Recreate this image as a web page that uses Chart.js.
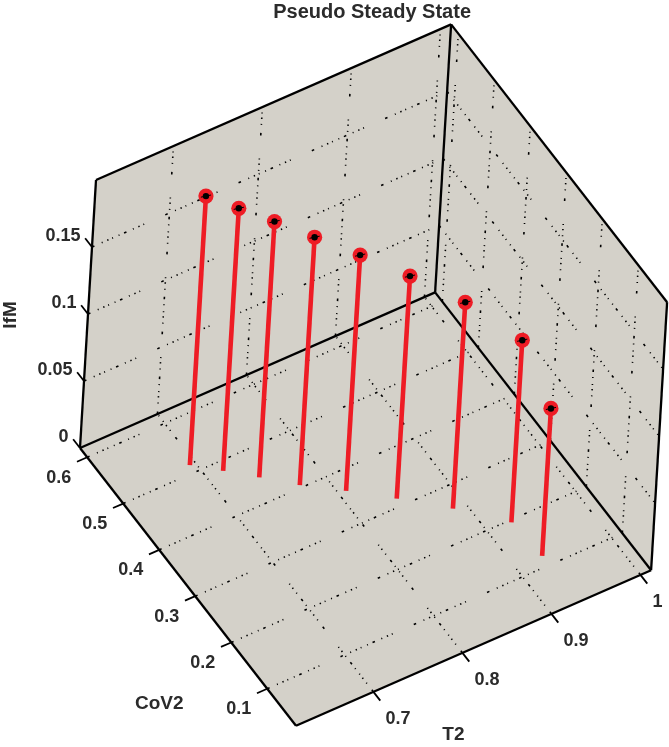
<!DOCTYPE html>
<html><head><meta charset="utf-8">
<style>html,body{margin:0;padding:0;background:#fff}canvas{display:block}</style>
<script src="https://cdn.jsdelivr.net/npm/chart.js@4"></script>
</head><body><canvas id="c" width="669" height="747"></canvas>
<script>
// ---- values
const T2   = [0.694,0.718,0.744,0.773,0.808,0.8455,0.886,0.926,0.930];
const CoV2 = [0.515,0.482,0.446,0.405,0.363,0.315,0.259,0.1955,0.120];
const IfM  = [0.2007,0.196,0.191,0.185,0.176,0.166,0.154,0.136,0.110];
const tickT2   = [0.7,0.8,0.9,1];
const tickCoV2 = [0.1,0.2,0.3,0.4,0.5,0.6];
const tickIfM  = [0,0.05,0.1,0.15];
const rangeT2 = [0.613,1.012];
const rangeCoV2 = [0.02,0.62];
const rangeIfM = [0,0.2];
const titleText = 'Pseudo Steady State';
const axisNames = {T2:'T2',CoV2:'CoV2',IfM:'IfM'};
// ---- view projection of the 3-D axes box
function proj(t,c,z){
  const dt=t-rangeT2[0], dc=rangeCoV2[1]-c;
  return {x:80+dt*890+dc*360+z*80, y:448-dt*390+dc*463-z*1340};
}
const [t0,t1]=rangeT2,[c0,c1]=rangeCoV2,[z0,z1]=rangeIfM;
const DOTS=[2.6,8,1,5,1.4,4,1,6,1,5,2.6,7,1,5,1.4,4,1,23];
const BLACK='#000', RED='#ee1c25', PANE='#d4d1c9';
function seg(a,b,o){return Object.assign({type:'scatter',data:[a,b],showLine:true,pointRadius:0,borderColor:BLACK,borderWidth:1.6,fill:false,tension:0,borderCapStyle:'butt'},o||{});}
const sets=[];
// pane
sets.push({type:'scatter',showLine:true,pointRadius:0,borderWidth:0,borderColor:PANE,backgroundColor:PANE,fill:'shape',order:100,tension:0,
 data:[proj(t0,c1,z0),proj(t0,c0,z0),proj(t1,c0,z0),proj(t1,c0,z1),proj(t1,c1,z1),proj(t0,c1,z1),proj(t0,c1,z0)]});
// grid
const gridOpt={borderDash:DOTS,order:90};
tickT2.forEach(t=>{
  sets.push(seg(proj(t,c0,z0),proj(t,c1,z0),gridOpt));
  sets.push(seg(proj(t,c1,z0),proj(t,c1,z1),gridOpt));
});
tickCoV2.forEach(c=>{
  sets.push(seg(proj(t0,c,z0),proj(t1,c,z0),gridOpt));
  sets.push(seg(proj(t1,c,z0),proj(t1,c,z1),gridOpt));
});
tickIfM.filter(z=>z>0).forEach(z=>{
  sets.push(seg(proj(t0,c1,z),proj(t1,c1,z),gridOpt));
  sets.push(seg(proj(t1,c1,z),proj(t1,c0,z),gridOpt));
});
// box edges
const edge={borderWidth:2.3,order:80};
[[[t0,c1,z0],[t1,c1,z0]],[[t1,c1,z0],[t1,c0,z0]],[[t0,c1,z0],[t0,c0,z0]],[[t0,c0,z0],[t1,c0,z0]],
 [[t1,c1,z0],[t1,c1,z1]],[[t0,c1,z1],[t1,c1,z1]],[[t1,c1,z1],[t1,c0,z1]],[[t0,c1,z0],[t0,c1,z1]],[[t1,c0,z0],[t1,c0,z1]]]
 .forEach(e=>sets.push(seg(proj(...e[0]),proj(...e[1]),edge)));
// axis ticks
const tickOpt={borderWidth:1.8,order:80};
tickT2.forEach(t=>sets.push(seg(proj(t,c0,z0),proj(t,c0-0.019,z0),tickOpt)));
tickCoV2.forEach(c=>sets.push(seg(proj(t0,c,z0),proj(t0-0.0115,c,z0),tickOpt)));
tickIfM.forEach(z=>sets.push(seg(proj(t0,c1,z),proj(t0,c1+0.019,z),tickOpt)));
// stems
T2.forEach((t,i)=>sets.push(seg(proj(t,CoV2[i],z0),proj(t,CoV2[i],IfM[i]),{borderColor:RED,borderWidth:4.6,order:50})));
// markers
const tops=T2.map((t,i)=>proj(t,CoV2[i],IfM[i]));
sets.push({type:'scatter',data:tops,pointRadius:7.6,pointBackgroundColor:RED,pointBorderWidth:0,order:40});
sets.push({type:'scatter',data:tops,pointStyle:'line',pointRadius:5.2,pointRotation:-12,pointBorderColor:BLACK,pointBorderWidth:1,order:30});
sets.push({type:'scatter',data:tops,pointRadius:3.2,pointBackgroundColor:BLACK,pointBorderWidth:0,order:20});

const textPlugin={id:'text3d',afterDatasetsDraw(ch){
  const g=ch.ctx,sx=ch.scales.x,sy=ch.scales.y;
  const put=(txt,p,dx,dy,al,rot,size)=>{
    g.save();g.translate(sx.getPixelForValue(p.x)+dx,sy.getPixelForValue(p.y)+dy);
    if(rot)g.rotate(rot);
    g.textAlign=al;g.textBaseline='middle';g.fillStyle='#2b2b2b';g.font='bold '+(size||18)+'px "Liberation Sans", Arial, sans-serif';
    g.fillText(txt,0,0);g.restore();
  };
  tickT2.forEach(t=>put(String(t),proj(t,c0,z0),12,27,'left'));
  tickCoV2.forEach(c=>put(String(c),proj(t0,c,z0),-16,20.5,'right'));
  tickIfM.forEach(z=>put(String(z),proj(t0,c1,z),-11.4,-11,'right'));
  const top=proj(t1,c1,z1);
  put(titleText,top,-79,-11.5,'center',0,20);
  const bT=proj(0.7,c0,z0); put(axisNames.T2,bT,80,43,'center',0,19);
  const bC=proj(t0,0.1,z0); put(axisNames.CoV2,bC,-108,15,'center',0,19);
  const bZ=proj(t0,c1,0.1); put(axisNames.IfM,bZ,-77,1,'center',-Math.PI/2,19);
}};
new Chart(document.getElementById('c'),{
  type:'scatter',
  data:{datasets:sets},
  plugins:[textPlugin],
  options:{responsive:false,animation:false,events:[],layout:{padding:0,autoPadding:false},
    plugins:{legend:{display:false},title:{display:false},tooltip:{enabled:false}},
    scales:{x:{type:'linear',display:false,min:0,max:669},y:{type:'linear',display:false,min:0,max:747,reverse:true}}}
});
</script></body></html>
